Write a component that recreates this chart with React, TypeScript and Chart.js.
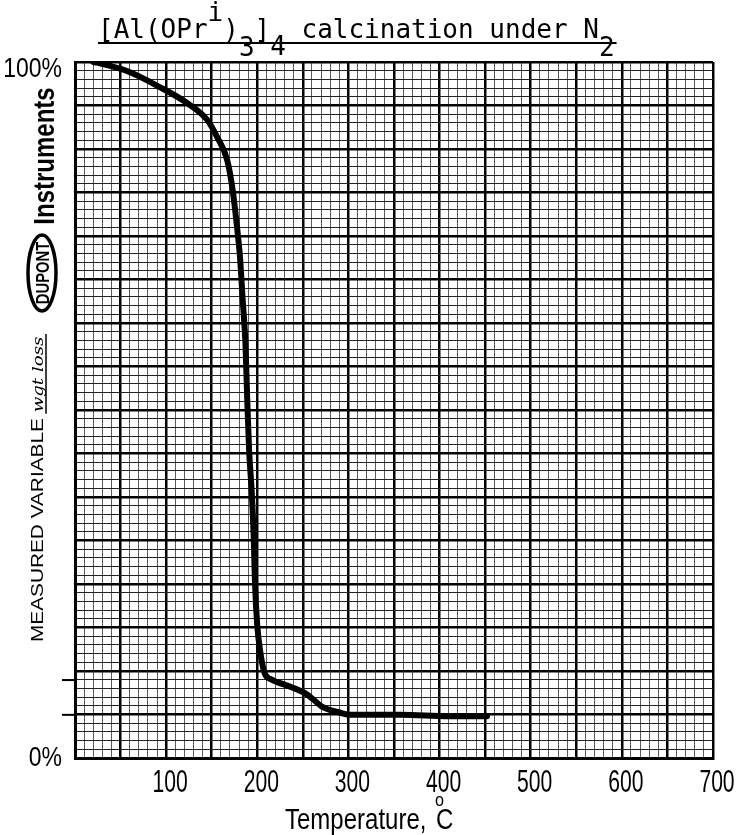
import React, { useEffect, useRef } from 'react';
import { Chart, registerables } from 'chart.js';
Chart.register(...registerables);

// Thermogravimetric curve: temperature (°C) vs remaining weight (%)
const temperatures = [20, 24, 57, 93, 123, 145, 156, 167, 173, 178, 181, 184, 187, 189, 191, 194, 196, 197.5, 200, 203, 208, 215, 222, 239, 255, 272, 291, 302, 357, 411, 452];
const weightPercent = [100, 99.9, 98.7, 96.4, 94.1, 91.7, 89.2, 85.9, 81.6, 76, 72, 65.8, 59.6, 51.4, 44.3, 38, 32, 25.1, 19, 15.5, 12.2, 11.3, 10.9, 10.1, 9.1, 7.3, 6.5, 6.2, 6.2, 6.0, 6.0];

const xTickLabels = [100, 200, 300, 400, 500, 600, 700];
const yTickLabels = [0, 100];
const leftMarkers = [11.2, 6.2];

const SANS = "'Liberation Sans', Arial, sans-serif";

const isMajor = (v: number, step: number) => Math.abs(v / step - Math.round(v / step)) < 1e-6;

// draw text horizontally squeezed by factor sx around (x,y)
function squeezed(ctx: CanvasRenderingContext2D, text: string, x: number, y: number, sx: number) {
  ctx.save();
  ctx.translate(x, y);
  ctx.scale(sx, 1);
  ctx.fillText(text, 0, 0);
  ctx.restore();
}

const textPlugin = {
  id: 'paperText',
  afterDraw(chart: any) {
    const ctx: CanvasRenderingContext2D = chart.ctx;
    const xs = chart.scales.x;
    const ys = chart.scales.y;
    ctx.save();
    ctx.fillStyle = '#000';
    ctx.strokeStyle = '#000';

    // Title with super/subscripts
    ctx.font = "26px 'DejaVu Sans Mono', monospace";
    ctx.textBaseline = 'alphabetic';
    ctx.textAlign = 'left';
    const parts: [string, number][] = [
      ['[Al(OPr', 0], ['i', -17], [')', 0], ['3', 18], [']', 0], ['4', 17], [' calcination under N', 0], ['2', 18],
    ];
    let x = 98;
    const base = 38;
    for (const [t, dy] of parts) {
      ctx.fillText(t, x, base + dy);
      x += ctx.measureText(t).width;
    }
    ctx.lineWidth = 2;
    ctx.beginPath();
    ctx.moveTo(98, 43);
    ctx.lineTo(x + 2, 43);
    ctx.stroke();

    // X tick labels (condensed plotter style), positioned by the x scale
    ctx.font = `32px ${SANS}`;
    ctx.textAlign = 'center';
    ctx.textBaseline = 'alphabetic';
    for (const v of xTickLabels) {
      const px = xs.getPixelForValue(v) + 4;
      squeezed(ctx, String(v), px, 792, 0.66);
    }

    // Y tick labels
    ctx.font = `28px ${SANS}`;
    ctx.textAlign = 'right';
    ctx.textBaseline = 'middle';
    for (const v of yTickLabels) {
      const py = ys.getPixelForValue(v) + (v === 100 ? 7 : 0);
      squeezed(ctx, `${v}%`, 62, py, 0.82);
    }

    // X axis title
    ctx.textAlign = 'left';
    ctx.textBaseline = 'alphabetic';
    const sxT = 0.8;
    ctx.font = `30px ${SANS}`;
    const t1 = 'Temperature, ';
    const w1 = ctx.measureText(t1).width * sxT;
    let sx = 285;
    squeezed(ctx, t1, sx, 829, sxT);
    sx += w1;
    ctx.font = `19px ${SANS}`;
    squeezed(ctx, 'o', sx + 2, 806, 0.85);
    ctx.font = `30px ${SANS}`;
    squeezed(ctx, 'C', sx + 3, 829, sxT);

    // Left marginal printing (rotated)
    ctx.save();
    ctx.translate(54, 156);
    ctx.rotate(-Math.PI / 2);
    ctx.font = `bold 30px ${SANS}`;
    ctx.textAlign = 'center';
    ctx.scale(0.8, 1);
    ctx.fillText('Instruments', 0, 0);
    ctx.restore();

    // DuPont oval logo
    ctx.save();
    ctx.lineWidth = 3.5;
    ctx.beginPath();
    ctx.ellipse(42, 273, 14, 38, 0, 0, Math.PI * 2);
    ctx.stroke();
    ctx.translate(48.5, 273);
    ctx.rotate(-Math.PI / 2);
    ctx.font = `bold 18px ${SANS}`;
    ctx.textAlign = 'center';
    ctx.scale(0.82, 1);
    ctx.fillText('DUPONT', 0, 0);
    ctx.restore();

    ctx.save();
    ctx.translate(43, 642);
    ctx.rotate(-Math.PI / 2);
    ctx.scale(1.3, 1);
    ctx.font = `16px ${SANS}`;
    ctx.textAlign = 'left';
    const mv = 'MEASURED VARIABLE ';
    ctx.fillText(mv, 0, 0);
    const mvw = ctx.measureText(mv).width;
    ctx.font = "italic 14px 'DejaVu Serif', serif";
    const wl = 'wgt loss';
    ctx.fillText(wl, mvw, 0);
    const wlw = ctx.measureText(wl).width;
    ctx.lineWidth = 1.5;
    ctx.beginPath();
    ctx.moveTo(mvw - 1, 3);
    ctx.lineTo(mvw + wlw + 2, 3);
    ctx.stroke();
    ctx.restore();

    // small marker dashes left of the y axis
    ctx.lineWidth = 2;
    for (const m of leftMarkers) {
      const py = ys.getPixelForValue(m);
      ctx.beginPath();
      ctx.moveTo(62, py);
      ctx.lineTo(75, py);
      ctx.stroke();
    }
    ctx.restore();
  },
};

export default function App() {
  const ref = useRef<HTMLCanvasElement>(null);
  useEffect(() => {
    const canvas = ref.current;
    if (!canvas) return;
    const chart = new Chart(canvas, {
      type: 'line',
      data: {
        datasets: [
          {
            label: 'weight',
            data: temperatures.map((t, i) => ({ x: t, y: weightPercent[i] })),
            borderColor: '#000',
            borderWidth: 6,
            pointRadius: 0,
            cubicInterpolationMode: 'monotone',
            borderCapStyle: 'round',
            borderJoinStyle: 'round',
            fill: false,
          },
        ],
      },
      options: {
        responsive: false,
        animation: false,
        events: [],
        layout: { padding: { top: 62, right: 29, left: 0, bottom: 0 } },
        plugins: { legend: { display: false }, tooltip: { enabled: false }, title: { display: false } },
        scales: {
          x: {
            type: 'linear',
            min: 0,
            max: 700,
            afterFit: (s: any) => { s.height = 77; },
            ticks: {
              stepSize: 10,
              autoSkip: false,
              maxRotation: 0,
              display: false,
            },
            grid: {
              drawTicks: false,
              color: (c: any) => (isMajor(c.tick.value, 50) ? '#000' : '#5a5a5a'),
              lineWidth: (c: any) => (isMajor(c.tick.value, 50) ? 2.5 : 1),
            },
            border: { display: true, color: '#000', width: 3 },
          },
          y: {
            type: 'linear',
            min: 0,
            max: 100,
            afterFit: (s: any) => { s.width = 75; },
            ticks: {
              stepSize: 1.25,
              autoSkip: false,
              display: false,
            },
            grid: {
              drawTicks: false,
              color: (c: any) => (isMajor(c.tick.value, 6.25) ? '#000' : '#222'),
              lineWidth: (c: any) => (isMajor(c.tick.value, 6.25) ? 2.5 : 1),
            },
            border: { display: true, color: '#000', width: 3 },
          },
        },
      },
      plugins: [textPlugin],
    } as any);
    return () => chart.destroy();
  }, []);
  return (
    <canvas
      ref={ref}
      width={742}
      height={835}
      style={{ position: 'absolute', left: 0, top: 0, display: 'block', background: '#fff' }}
    />
  );
}
